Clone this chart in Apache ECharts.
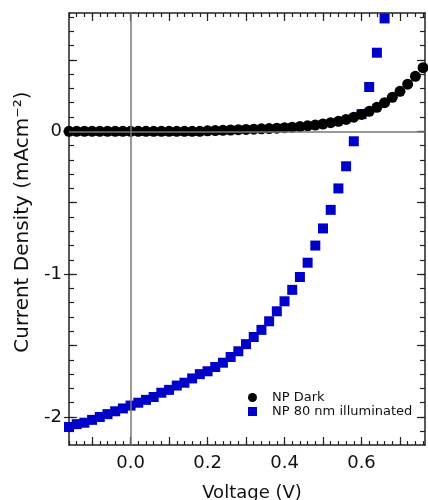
<!DOCTYPE html>
<html>
<head>
<meta charset="utf-8">
<script src="https://cdn.jsdelivr.net/npm/echarts@6/dist/echarts.min.js"></script>
<style>
html,body{margin:0;padding:0;background:#fff;}
#chart{width:428px;height:500px;}
</style>
</head>
<body>
<div id="chart"></div>
<script>
// ---- data ----
var voltDark = [-0.16,-0.14,-0.12,-0.10,-0.08,-0.06,-0.04,-0.02,0.00,0.02,0.04,0.06,0.08,0.10,0.12,0.14,0.16,0.18,
  0.20,0.22,0.24,0.26,0.28,0.30,0.32,0.34,0.36,0.38,0.40,0.42,0.44,0.46,0.48,0.50,0.52,0.54,0.56,0.58,0.60,0.62,0.64,0.66,0.68,0.70,0.72,0.74,0.76];
var jDark = [0,0,0,0,0,0,0,0,0,0,0,0,0,0,0,0,0,0,
  0.003,0.005,0.007,0.009,0.011,0.013,0.015,0.017,0.019,0.022,0.025,0.029,0.033,0.038,0.044,0.051,0.060,0.070,0.083,0.099,0.118,0.140,0.168,0.200,0.238,0.280,0.330,0.385,0.445];
var voltIllum = [-0.16,-0.14,-0.12,-0.10,-0.08,-0.06,-0.04,-0.02,0.00,0.02,0.04,0.06,0.08,0.10,0.12,0.14,0.16,0.18,
  0.20,0.22,0.24,0.26,0.28,0.30,0.32,0.34,0.36,0.38,0.40,0.42,0.44,0.46,0.48,0.50,0.52,0.54,0.56,0.58,0.60,0.62,0.64,0.66];
var jIllum = [-2.07,-2.05,-2.04,-2.02,-2.00,-1.98,-1.96,-1.94,-1.92,-1.90,-1.88,-1.86,-1.83,-1.81,-1.78,-1.76,-1.73,-1.70,
  -1.68,-1.65,-1.62,-1.58,-1.54,-1.49,-1.44,-1.39,-1.33,-1.26,-1.19,-1.11,-1.02,-0.92,-0.80,-0.68,-0.55,-0.40,-0.245,-0.07,0.12,0.31,0.55,0.79];
var seriesNames = ['NP Dark', 'NP 80 nm illuminated'];
var xTickLabels = [0.0, 0.2, 0.4, 0.6];
var xMajorTicks = [-0.1, 0.0, 0.1, 0.2, 0.3, 0.4, 0.5, 0.6, 0.7];
var yTickLabels = [-2, -1, 0];
var yMajorTicks = [-2, -1.5, -1, -0.5, 0, 0.5];

// ---- axis ranges ----
var X_MIN = -0.16, X_MAX = 0.765, Y_MIN = -2.196, Y_MAX = 0.828;

function stepTicks(a, b, s) {
  var out = [];
  for (var k = Math.ceil(a / s - 1e-9); k * s <= b + 1e-9; k++) out.push(+(k * s).toFixed(3));
  return out;
}
var xMinorTicks = stepTicks(X_MIN, X_MAX, 0.02);
var yMinorTicks = stepTicks(Y_MIN, Y_MAX, 0.1);

var FONT = 'DejaVu Sans';
var lineCol = '#222';

function pairs(xs, ys) { return xs.map(function (x, i) { return [x, ys[i]]; }); }

function xAx(pos, ticks, len, labels, show, inside) {
  return {
    type: 'value', position: pos, min: X_MIN, max: X_MAX,
    axisLine: { show: show, onZero: false, lineStyle: { color: lineCol, width: 1.5 } },
    axisTick: { show: true, inside: inside !== false, length: len, customValues: ticks, lineStyle: { color: lineCol, width: 1.2 } },
    axisLabel: labels ? { show: true, customValues: labels, margin: 9, color: '#111', fontFamily: FONT, fontSize: 18,
      formatter: function (v) { return (+v).toFixed(1); } } : { show: false },
    splitLine: { show: false }
  };
}
function yAx(pos, ticks, len, labels, show, inside) {
  return {
    type: 'value', position: pos, min: Y_MIN, max: Y_MAX,
    axisLine: { show: show, onZero: false, lineStyle: { color: lineCol, width: 1.5 } },
    axisTick: { show: true, inside: inside !== false, length: len, customValues: ticks, lineStyle: { color: lineCol, width: 1.2 } },
    axisLabel: labels ? { show: true, customValues: labels, margin: 7, color: '#111', fontFamily: FONT, fontSize: 18,
      formatter: function (v) { return String(Math.round(v)); } } : { show: false },
    splitLine: { show: false }
  };
}

var xAxes = [
  xAx('bottom', xMajorTicks, 8, xTickLabels, true),
  xAx('bottom', xMinorTicks, 4, null, false),
  xAx('top', xMajorTicks, 8, null, true),
  xAx('top', xMinorTicks, 4, null, false)
];
xAxes[0].name = 'Voltage (V)';
xAxes[0].nameLocation = 'middle';
xAxes[0].nameGap = 39;
xAxes[0].nameTextStyle = { fontFamily: FONT, fontSize: 18, color: '#111', padding: [0, 0, 0, 10] };

var yAxes = [
  yAx('left', yMajorTicks, 8, yTickLabels, true),
  yAx('left', yMinorTicks, 5, null, false),
  yAx('right', yMajorTicks, 8, null, true),
  yAx('right', yMinorTicks, 5, null, false),
  yAx('left', yTickLabels, 5, null, false, false)
];
yAxes[0].name = 'Current Density (mAcm\u207B\u00B2)';
yAxes[0].nameLocation = 'middle';
yAxes[0].nameGap = 36;
yAxes[0].nameTextStyle = { fontFamily: FONT, fontSize: 20, color: '#111', padding: [0, 0, 0, 14] };

var chart = echarts.init(document.getElementById('chart'), null, { renderer: 'canvas' });
chart.setOption({
  animation: false,
  backgroundColor: '#fff',
  grid: { left: 69, right: 3, top: 13, bottom: 55, containLabel: false, outerBoundsMode: 'none' },
  xAxis: xAxes,
  yAxis: yAxes,
  legend: {
    orient: 'vertical', left: 243, top: 386, itemWidth: 9, itemHeight: 9, itemGap: 1,
    data: [{ name: seriesNames[0], icon: 'circle' }, { name: seriesNames[1], icon: 'rect' }],
    textStyle: { fontFamily: FONT, fontSize: 13, color: '#111', padding: [0, 0, 0, 10] }
  },
  series: [
    {
      type: 'line', data: [], z: 1, silent: true,
      markLine: {
        silent: true, symbol: 'none', label: { show: false },
        lineStyle: { color: '#777', width: 1.5, type: 'solid' },
        data: [{ xAxis: 0 }, { yAxis: 0 }]
      }
    },
    {
      name: seriesNames[1], type: 'scatter', symbol: 'rect', symbolSize: 10, z: 3,
      itemStyle: { color: '#0000c8', opacity: 1 },
      data: pairs(voltIllum, jIllum)
    },
    {
      name: seriesNames[0], type: 'scatter', symbol: 'circle', symbolSize: 11, z: 4,
      itemStyle: { color: '#000', opacity: 1 },
      data: pairs(voltDark, jDark)
    }
  ]
});
</script>
</body>
</html>
